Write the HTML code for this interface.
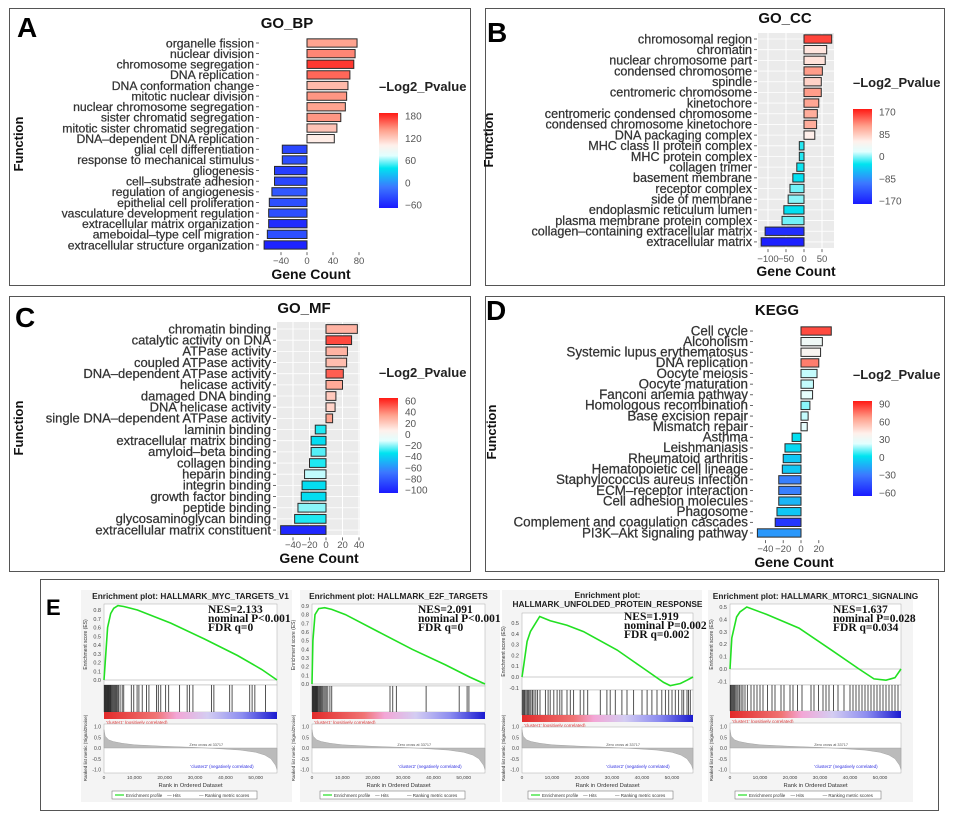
<!DOCTYPE html>
<html><head><meta charset="utf-8"><title>Enrichment figure</title>
<style>
html,body{margin:0;padding:0;background:#fff;}
svg{display:block;font-family:"Liberation Sans",Arial,sans-serif;}
</style></head>
<body>
<svg id="fig" width="955" height="819" viewBox="0 0 955 819" xmlns="http://www.w3.org/2000/svg">
<defs>
<linearGradient id="rankGrad" x1="0" y1="0" x2="1" y2="0">
<stop offset="0" stop-color="#e22a2a"/><stop offset="0.3" stop-color="#f07474"/><stop offset="0.42" stop-color="#f3a6d6"/><stop offset="0.6" stop-color="#d4cdf2"/><stop offset="0.8" stop-color="#8c8cf0"/><stop offset="1" stop-color="#1a1ad0"/>
</linearGradient>
</defs>
<rect x="0" y="0" width="955" height="819" fill="#fff"/>
<rect x="9.5" y="8.5" width="461" height="277" fill="none" stroke="#555"/>
<rect x="485.5" y="8.5" width="459" height="277" fill="none" stroke="#555"/>
<rect x="9.5" y="296.5" width="461" height="275" fill="none" stroke="#555"/>
<rect x="485.5" y="296.5" width="459" height="275" fill="none" stroke="#555"/>
<rect x="40.5" y="579.5" width="898" height="231" fill="none" stroke="#555"/>
<text x="17" y="37" font-size="28" font-weight="bold" fill="#000">A</text>
<text x="487" y="42" font-size="28" font-weight="bold" fill="#000">B</text>
<text x="15" y="327" font-size="28" font-weight="bold" fill="#000">C</text>
<text x="486" y="320" font-size="28" font-weight="bold" fill="#000">D</text>
<text x="46" y="615" font-size="22" font-weight="bold" fill="#000">E</text>
</svg>
<script>
// ---------- DATA ----------
const aCats=["organelle fission","nuclear division","chromosome segregation","DNA replication","DNA conformation change","mitotic nuclear division","nuclear chromosome segregation","sister chromatid segregation","mitotic sister chromatid segregation","DNA–dependent DNA replication","glial cell differentiation","response to mechanical stimulus","gliogenesis","cell–substrate adhesion","regulation of angiogenesis","epithelial cell proliferation","vasculature development regulation","extracellular matrix organization","ameboidal–type cell migration","extracellular structure organization"];
const aVals=[77,74,72,66,63,61,59,52,46,42,-38,-38,-50,-50,-54,-58,-59,-59,-61,-66];
const aPv=[135,145,170,155,125,140,135,140,120,100,-35,-30,-40,-35,-25,-30,-30,-50,-30,-55];
const aTicks=[-40,0,40,80];
const aLeg=[180,120,60,0,-60];

const bCats=["chromosomal region","chromatin","nuclear chromosome part","condensed chromosome","spindle","centromeric chromosome","kinetochore","centromeric condensed chromosome","condensed chromosome kinetochore","DNA packaging complex","MHC class II protein complex","MHC protein complex","collagen trimer","basement membrane","receptor complex","side of membrane","endoplasmic reticulum lumen","plasma membrane protein complex","collagen–containing extracellular matrix","extracellular matrix"];
const bVals=[77,63,59,51,48,48,41,37,35,30,-13,-13,-20,-31,-39,-44,-56,-61,-108,-119];
const bPv=[150,62,64,110,75,110,105,100,100,55,-20,-20,-25,-30,-5,0,-30,-5,-155,-165];
const bTicks=[-100,-50,0,50];
const bLeg=[170,85,0,-85,-170];

const cCats=["chromatin binding","catalytic activity on DNA","ATPase activity","coupled ATPase activity","DNA–dependent ATPase activity","helicase activity","damaged DNA binding","DNA helicase activity","single DNA–dependent ATPase activity","laminin binding","extracellular matrix binding","amyloid–beta binding","collagen binding","heparin binding","integrin binding","growth factor binding","peptide binding","glycosaminoglycan binding","extracellular matrix constituent"];
const cVals=[38,31,26,25,21,20,12,11,8,-13,-18,-18,-20,-26,-29,-30,-34,-38,-55];
const cPv=[25,50,25,22,45,28,18,15,30,-30,-35,-25,-30,-15,-35,-35,-20,-30,-95];
const cTicks=[-40,-20,0,20,40];
const cLeg=[60,40,20,0,-20,-40,-60,-80,-100];

const dCats=["Cell cycle","Alcoholism","Systemic lupus erythematosus","DNA replication","Oocyte meiosis","Oocyte maturation","Fanconi anemia pathway","Homologous recombination","Base excision repair","Mismatch repair","Asthma","Leishmaniasis","Rheumatoid arthritis","Hematopoietic cell lineage","Staphylococcus aureus infection","ECM–receptor interaction","Cell adhesion molecules","Phagosome","Complement and coagulation cascades","PI3K–Akt signaling pathway"];
const dVals=[34,24,22,20,18,14,13,10,8,7,-10,-18,-20,-21,-25,-25,-25,-27,-29,-49];
const dPv=[80,30,35,70,20,20,25,15,20,25,2,0,-5,-5,-25,-25,-10,-5,-50,-18];
const dTicks=[-40,-20,0,20];
const dLeg=[90,60,30,0,-30,-60];

// GSEA data (ranks in genes)
const rankMax=57000;
const rankTicks=[0,10000,20000,30000,40000,50000];
const rankTickLabels=["0","10,000","20,000","30,000","40,000","50,000"];
const es1Rank=[0,600,1200,2200,3200,4600,6500,11000,22000,33000,44000,52000,57000];
const es1Val=[0,0.3,0.6,0.76,0.82,0.85,0.84,0.8,0.65,0.47,0.28,0.12,0];
const es2Rank=[0,300,1000,2200,4200,6500,11000,22000,33000,44000,52000,57000];
const es2Val=[0,0.5,0.8,0.87,0.88,0.86,0.8,0.6,0.4,0.22,0.08,0];
const es3Rank=[0,550,1700,2800,3900,5900,9400,15000,20500,31700,40500,47200,49400,52800,55000,57000];
const es3Val=[0,0.1,0.33,0.42,0.47,0.56,0.52,0.48,0.42,0.25,0.08,-0.05,-0.08,-0.06,-0.03,0];
const es4Rank=[0,600,2200,3300,5600,12200,23000,34000,43000,48000,52000,55000,57000];
const es4Val=[0,0.25,0.42,0.46,0.5,0.44,0.33,0.15,0,-0.08,-0.09,-0.07,0];
const hits1=[100,300,500,700,900,1100,1300,1500,1700,1900,2100,2300,2600,2900,3200,3500,3800,4100,4400,4800,5300,6000,6500,9000,9800,10900,11500,12600,14000,14800,17300,17900,18700,20300,21300,24900,27400,28200,29300,35400,36200,41400,42200,48000,48800,49700,53200];
const hits2=[100,300,500,700,900,1100,1300,1500,1700,1900,2200,2500,2800,3100,3500,3900,4300,4700,5200,5900,6500,25700,26600,27800,37600,48500,51100,51700];
const hits3=[100,400,700,1000,1400,1800,2200,2600,3000,3500,4000,4600,5200,6000,7800,8700,9400,10600,11700,12600,13300,15000,16100,17200,19400,20600,21900,26100,28300,29400,31100,33300,35000,37200,40000,41700,43300,45000,46600,47800,48900,50000,51100,52200,53300,53900,55000,55500,56100];
const hits4=[100,300,600,900,1200,1500,1900,2300,2700,3200,3700,4300,5000,5800,7000,8000,9000,10000,11000,12500,14000,15000,17000,18000,20000,21000,22500,24000,27000,28000,29500,31000,32000,33000,34500,36000,38000,40000,41000,42000,43000,44000,45000,46000,47000,48000,49000,50000,51000,52000,53000,54000,55000,56000];
const metricRank=[0,400,1500,3000,6000,10000,20000,30000,33700,40000,45000,50000,53000,55000,56500,57000];
const metricVal=[0.85,0.55,0.38,0.3,0.22,0.15,0.08,0.03,0,-0.05,-0.1,-0.2,-0.33,-0.5,-0.8,-1.0];
const esStats1=["NES=2.133","nominal P<0.001","FDR q=0"];
const esStats2=["NES=2.091","nominal P<0.001","FDR q=0"];
const esStats3=["NES=1.919","nominal P=0.002","FDR q=0.002"];
const esStats4=["NES=1.637","nominal P=0.028","FDR q=0.034"];

// ---------- HELPERS ----------
const NS='http://www.w3.org/2000/svg';
const svg=document.getElementById('fig');
function mk(tag,attrs,parent,text){const e=document.createElementNS(NS,tag);for(const k in attrs)e.setAttribute(k,attrs[k]);if(text!=null)e.textContent=text;(parent||svg).appendChild(e);return e;}
const stops=[[0,[26,26,255]],[0.22,[60,120,255]],[0.42,[0,228,240]],[0.55,[225,255,255]],[0.66,[255,240,235]],[0.82,[255,160,140]],[1,[255,25,20]]];
function cmap(f){f=Math.max(0,Math.min(1,f));for(let i=1;i<stops.length;i++){if(f<=stops[i][0]){const a=stops[i-1],b=stops[i];const t=(f-a[0])/(b[0]-a[0]);return 'rgb('+a[1].map((c,j)=>Math.round(c+(b[1][j]-c)*t)).join(',')+')';}}return 'rgb(255,25,20)';}

function barChart(id,C,cats,vals,pv,ticks,leg){
  const g=mk('g',{});
  
  
  const n=cats.length;
  const xs=v=>C.x0+v*C.s;
  if(C.bg){
    const bg=mk('rect',{x:C.bg[0],y:C.bg[1],width:C.bg[2]-C.bg[0],height:C.bg[3]-C.bg[1],fill:'#ebebeb'},g);
    
    
    ticks.forEach(t=>{const l=mk('line',{x1:xs(t),x2:xs(t),y1:C.bg[1],y2:C.bg[3],stroke:'#fff','stroke-width':1},g);
      
      });
    cats.forEach((c,i)=>{const y=C.y0+i*C.dy;const l=mk('line',{x1:C.bg[0],x2:C.bg[2],y1:y,y2:y,stroke:'#fff','stroke-width':0.8},g);
      
      });
  }
  const t=mk('text',{x:C.title[0],y:C.title[1],'text-anchor':'middle','font-size':15,'font-weight':'bold',fill:'#111'},g,C.titleText);
  
  
  const h=C.dy*0.78;
  cats.forEach((c,i)=>{
    const y=C.y0+i*C.dy;
    const lb=mk('text',{x:C.labelX,y:y+4.3,'text-anchor':'end','font-size':C.fs,fill:'#333',stroke:'#333','stroke-width':0.25},g,c);
    
    
    const tk=mk('line',{x1:C.labelX+2,x2:C.labelX+5,y1:y,y2:y,stroke:'#444','stroke-width':0.8},g);
    
    
    const v=vals[i];
    const f=(pv[i]-leg[leg.length-1])/(leg[0]-leg[leg.length-1]);
    const r=mk('rect',{x:Math.min(xs(0),xs(v)),y:y-h/2,width:Math.abs(v*C.s),height:h,fill:cmap(f),stroke:'#2a2a2a','stroke-width':1},g);
    
    
  });
  const axY=C.y0+(n-1)*C.dy+h/2+3;
  ticks.forEach(tv=>{
    const tl=mk('line',{x1:xs(tv),x2:xs(tv),y1:axY,y2:axY+3,stroke:'#444','stroke-width':0.8},g);
    
    
    const tt=mk('text',{x:xs(tv),y:C.tickY,'text-anchor':'middle','font-size':9.5,fill:'#555'},g,String(tv).replace('-','−'));
    
    
  });
  const xt=mk('text',{x:C.xlab[0],y:C.xlab[1],'text-anchor':'middle','font-size':14,'font-weight':'bold',fill:'#111'},g,'Gene Count');
  
  
  const yt=mk('text',{x:0,y:0,'text-anchor':'middle','font-size':13,'font-weight':'bold',fill:'#111',transform:'translate('+C.ylab[0]+','+C.ylab[1]+') rotate(-90)'},g,'Function');
  
  
  const gid='grad-'+id;
  const lg=mk('linearGradient',{id:gid,x1:0,y1:1,x2:0,y2:0},svg.querySelector('defs'));
  stops.forEach(s=>mk('stop',{offset:s[0],'stop-color':'rgb('+s[1].join(',')+')'},lg));
  const ltitle=mk('text',{x:C.leg[0],y:C.legTitleY,'font-size':13,'font-weight':'bold',fill:'#222'},g,'–Log2_Pvalue');
  
  
  const lb=mk('rect',{x:C.leg[0],y:C.leg[1],width:19,height:C.leg[2],fill:'url(#'+gid+')'},g);
  
  
  const mx=leg[0],mn=leg[leg.length-1];
  leg.forEach(v=>{
    const yy=C.leg[1]+3+(mx-v)/(mx-mn)*(C.leg[2]-6);
    const lt=mk('text',{x:C.leg[0]+26,y:yy+3.5,'font-size':10,fill:'#555'},g,String(v).replace('-','−'));
    
    
  });
}

barChart('go-bp',{x0:307,s:0.65,y0:43,dy:10.63,labelX:254,fs:12.2,tickY:264,title:[287,28],titleText:'GO_BP',xlab:[311,279],ylab:[23,144],leg:[379,113,95],legTitleY:91},aCats,aVals,aPv,aTicks,aLeg);
barChart('go-cc',{x0:804,s:0.36,y0:39,dy:10.68,labelX:752,fs:12.6,tickY:262,title:[785,23],titleText:'GO_CC',xlab:[796,276],ylab:[493,140],leg:[853,109,95],legTitleY:87,bg:[758,33,834,248]},bCats,bVals,bPv,bTicks,bLeg);
barChart('go-mf',{x0:326,s:0.825,y0:329,dy:11.17,labelX:271,fs:13,tickY:548,title:[304,313],titleText:'GO_MF',xlab:[319,563],ylab:[23,428],leg:[379,398,95],legTitleY:377,bg:[277,322,360,535]},cCats,cVals,cPv,cTicks,cLeg);
barChart('kegg',{x0:801,s:0.89,y0:331,dy:10.63,labelX:748,fs:13.4,tickY:552,title:[777,315],titleText:'KEGG',xlab:[794,567],ylab:[496,432],leg:[853,401,95],legTitleY:379},dCats,dVals,dPv,dTicks,dLeg);

// ---------- GSEA ----------
function gsea(k,G,esR,esV,hits,titleLines,stats){
  const g=mk('g',{});
  
  
  const bg=mk('rect',{x:G.bx0,y:590,width:G.bx1-G.bx0,height:212,fill:'#f4f4f4'},g);
  
  
  const cx=(G.x0+G.x1)/2;
  titleLines.forEach((tl,i)=>{
    const t=mk('text',{x:cx,y:G.ty+i*9,'text-anchor':'middle','font-size':8.3,'font-weight':'bold',fill:'#222'},g,tl);
    
    
  });
  const W=G.x1-G.x0;
  const xs=r=>G.x0+r/rankMax*W;
  const esY=v=>G.esZero-v*G.esPx;
  const f1=mk('rect',{x:G.x0,y:G.esTop,width:W,height:G.hitTop-G.esTop,fill:'#fff',stroke:'#aaa','stroke-width':0.5},g);
  
  
  G.esTicks.forEach(v=>{
    const t=mk('text',{x:G.x0-3,y:esY(v)+2,'text-anchor':'end','font-size':5.5,fill:'#444'},g,v.toFixed(1));
    
    
  });
  const zl=mk('line',{x1:G.x0,x2:G.x1,y1:esY(0),y2:esY(0),stroke:'#999','stroke-width':0.6},g);
  
  
  const pts=esR.map((r,i)=>xs(r).toFixed(1)+','+esY(esV[i]).toFixed(1)).join(' ');
  const pl=mk('polyline',{points:pts,fill:'none',stroke:'#22e022','stroke-width':1.6},g);
  
  
  stats.forEach((s,i)=>{
    const t=mk('text',{x:G.sx,y:G.sy+i*9,'font-family':'"Liberation Serif",serif','font-size':11.5,'font-weight':'bold',fill:'#111'},g,s);
    
    
  });
  const yl=mk('text',{x:0,y:0,'text-anchor':'middle','font-size':5,fill:'#333',transform:'translate('+(G.x0-17)+','+((G.esTop+G.hitTop)/2)+') rotate(-90)'},g,'Enrichment score (ES)');
  
  
  const hf=mk('rect',{x:G.x0,y:G.hitTop,width:W,height:G.hitBot-G.hitTop,fill:'#fff',stroke:'#aaa','stroke-width':0.5},g);
  
  
  hits.forEach(r=>{
    const l=mk('line',{x1:xs(r),x2:xs(r),y1:G.hitTop,y2:G.hitBot,stroke:'#111','stroke-width':0.9,'stroke-opacity':0.8},g);
    
    
  });
  const cb=mk('rect',{x:G.x0,y:G.hitBot,width:W,height:7,fill:'url(#rankGrad)'},g);
  
  
  const c1=mk('text',{x:G.x0+2,y:G.hitBot+12,'font-size':4.5,fill:'#e03030'},g,"'cluster1' (positively correlated)");
  
  
  const rkZ=748,rkP=21.5;
  const rf=mk('rect',{x:G.x0,y:G.hitBot+12,width:W,height:773-(G.hitBot+12),fill:'#fff',stroke:'#aaa','stroke-width':0.5},g);
  
  
  let ap='M'+xs(0)+','+rkZ+' '+metricRank.map((r,i)=>'L'+xs(r).toFixed(1)+','+(rkZ-metricVal[i]*rkP).toFixed(1)).join(' ')+' L'+xs(rankMax)+','+rkZ+'Z';
  const ar=mk('path',{d:ap,fill:'#bbb',stroke:'#999','stroke-width':0.4},g);
  
  
  [1.0,0.5,0.0,-0.5,-1.0].forEach(v=>{
    const t=mk('text',{x:G.x0-3,y:rkZ-v*rkP+2,'text-anchor':'end','font-size':5,fill:'#444'},g,v.toFixed(1));
    
    
  });
  const zc=mk('text',{x:xs(33700),y:rkZ-2,'text-anchor':'middle','font-size':3.8,fill:'#555'},g,'Zero cross at 33717');
  
  
  const c2=mk('text',{x:G.x1-55,y:768,'text-anchor':'middle','font-size':4.5,fill:'#3030e0'},g,"'cluster2' (negatively correlated)");
  
  
  const yl2=mk('text',{x:0,y:0,'text-anchor':'middle','font-size':4.5,fill:'#333',transform:'translate('+(G.x0-17)+','+rkZ+') rotate(-90)'},g,'Ranked list metric (Signal2Noise)');
  
  
  rankTicks.forEach((r,i)=>{
    const t=mk('text',{x:xs(r),y:779,'text-anchor':'middle','font-size':4.8,fill:'#444'},g,rankTickLabels[i]);
    
    
  });
  const xl=mk('text',{x:cx,y:787,'text-anchor':'middle','font-size':5.8,fill:'#333'},g,'Rank in Ordered Dataset');
  
  
  const lb=mk('rect',{x:G.lx0,y:791,width:G.lx1-G.lx0,height:8,fill:'#fff',stroke:'#666','stroke-width':0.5},g);
  
  
  const lw=G.lx1-G.lx0;
  const gl=mk('line',{x1:G.lx0+3,x2:G.lx0+12,y1:795,y2:795,stroke:'#22e022','stroke-width':1.2},g);
  
  
  const e1=mk('text',{x:G.lx0+14,y:797,'font-size':4.5,fill:'#333'},g,'Enrichment profile');
  
  
  const e2=mk('text',{x:G.lx0+lw*0.38,y:797,'font-size':4.5,fill:'#333'},g,'— Hits');
  
  
  const e3=mk('text',{x:G.lx0+lw*0.6,y:797,'font-size':4.5,fill:'#333'},g,'— Ranking metric scores');
  
  
}
gsea(1,{bx0:81,bx1:292,x0:104,x1:277,ty:599,esTop:604,esZero:680,esPx:87.5,hitTop:685,hitBot:712,esTicks:[0,0.1,0.2,0.3,0.4,0.5,0.6,0.7,0.8],sx:208,sy:613,lx0:112,lx1:257},es1Rank,es1Val,hits1,['Enrichment plot: HALLMARK_MYC_TARGETS_V1'],esStats1);
gsea(2,{bx0:300,bx1:500,x0:312,x1:485,ty:599,esTop:604,esZero:684,esPx:86.7,hitTop:686,hitBot:712,esTicks:[0,0.1,0.2,0.3,0.4,0.5,0.6,0.7,0.8,0.9],sx:418,sy:613,lx0:320,lx1:465},es2Rank,es2Val,hits2,['Enrichment plot: HALLMARK_E2F_TARGETS'],esStats2);
gsea(3,{bx0:502,bx1:702,x0:522,x1:693,ty:598,esTop:613,esZero:677,esPx:108,hitTop:690,hitBot:715,esTicks:[-0.1,0,0.1,0.2,0.3,0.4,0.5],sx:624,sy:620,lx0:528,lx1:673},es3Rank,es3Val,hits3,['Enrichment plot:','HALLMARK_UNFOLDED_PROTEIN_RESPONSE'],esStats3);
gsea(4,{bx0:708,bx1:913,x0:730,x1:901,ty:599,esTop:604,esZero:669,esPx:124,hitTop:685,hitBot:711,esTicks:[-0.1,0,0.1,0.2,0.3,0.4,0.5],sx:833,sy:613,lx0:735,lx1:881},es4Rank,es4Val,hits4,['Enrichment plot: HALLMARK_MTORC1_SIGNALING'],esStats4);
</script>
</body></html>
